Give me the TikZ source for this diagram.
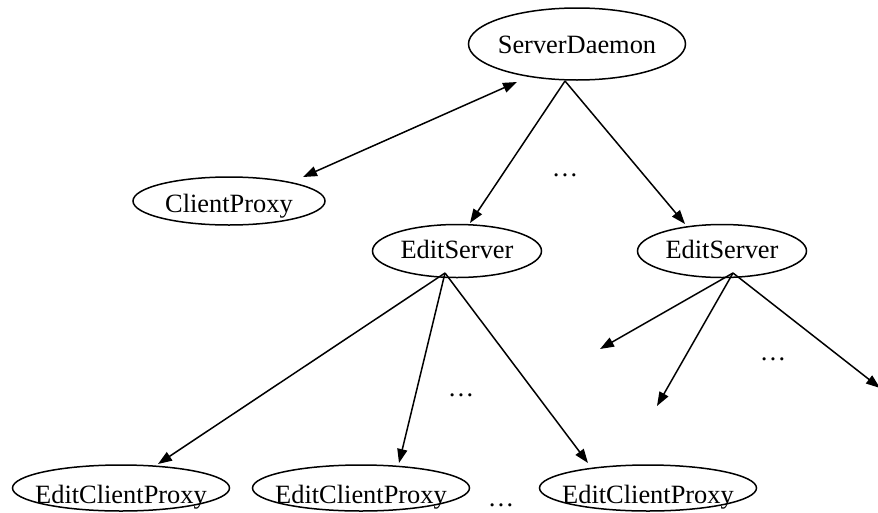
\documentclass[tikz,border=0pt]{standalone}
\usepackage{fontspec}
\setmainfont{Liberation Serif}
\usetikzlibrary{shapes.geometric,arrows.meta,calc}
\begin{document}
\begin{tikzpicture}[x=1pt,y=-1pt,
  >={Triangle[length=14pt,width=10pt]},
  every node/.style={font=\fontsize{26.4}{30}\selectfont},
  blob/.style={draw, ellipse, line width=1.5pt, inner sep=0pt, text depth=0pt},
  link/.style={line width=1.5pt},
  gap/.style={anchor=base, inner sep=0pt}]
\useasboundingbox (0,0) rectangle (878,512);

% process nodes
\node[blob, minimum width=217pt, minimum height=72pt, text height=18pt] (sd) at (577,44) {\makebox[0pt]{ServerDaemon}};
\node[blob, minimum width=192pt, minimum height=48pt, text height=22pt] (cp) at (229,201) {\makebox[0pt]{ClientProxy}};
\node[blob, minimum width=169pt, minimum height=53pt, text height=14pt] (es1) at (457,251) {\makebox[0pt]{EditServer}};
\node[blob, minimum width=169pt, minimum height=53pt, text height=14pt] (es2) at (722,251) {\makebox[0pt]{EditServer}};
\node[blob, minimum width=217pt, minimum height=46pt, text height=30pt] (ecp1) at (121,488) {\makebox[0pt]{EditClientProxy}};
\node[blob, minimum width=217pt, minimum height=46pt, text height=30pt] (ecp2) at (361,488) {\makebox[0pt]{EditClientProxy}};
\node[blob, minimum width=217pt, minimum height=46pt, text height=30pt] (ecp3) at (648,488) {\makebox[0pt]{EditClientProxy}};

% ellipses standing for further children
\node[gap] (more1) at (565,176) {…};
\node[gap] (more2) at (461,396) {…};
\node[gap] (more3) at (773,360) {…};
\node[gap] (more4) at (501,506) {…};

% ports
\coordinate (sd-out) at ($(sd)+(-12,37)$);
\coordinate (es1-out) at ($(es1)+(-12,22)$);
\coordinate (es2-out) at ($(es2)+(11,22)$);
\coordinate (x1) at (600,349);
\coordinate (x2) at (657,406);
\coordinate (x3) at (880,388);

% connectors
\draw[link,<->] ($(cp)+(74,-24)$) -- ($(sd)+(-60,38)$);
\draw[link,->] (sd-out) -- ($(es1)+(13,-28)$);
\draw[link,->] (sd-out) -- ($(es2)+(-37,-27)$);
\draw[link,->] (es1-out) -- ($(ecp1)+(37,-24)$);
\draw[link,->] (es1-out) -- ($(ecp2)+(38,-25)$);
\draw[link,->] (es1-out) -- ($(ecp3)+(-60,-25)$);
\draw[link,->] (es2-out) -- (x1);
\draw[link,->] (es2-out) -- (x2);
\draw[link,->] (es2-out) -- (x3);
\end{tikzpicture}
\end{document}
